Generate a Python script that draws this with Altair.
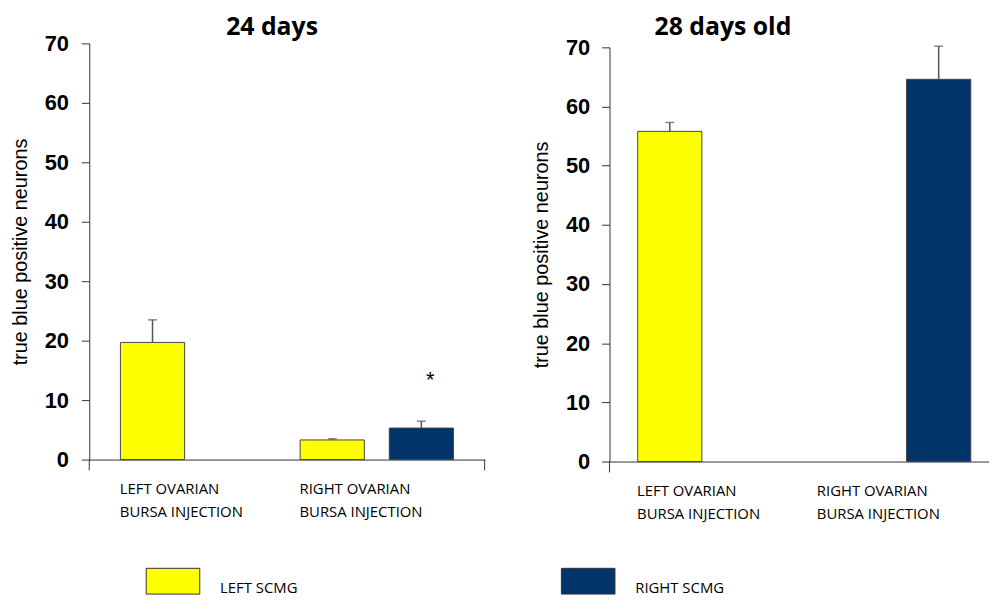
import altair as alt
import pandas as pd

# ---------------- data ----------------
series = ["LEFT SCMG", "RIGHT SCMG"]
series_colors = ["#FFFF00", "#02346A"]
categories = ["LEFT", "RIGHT"]
cat_line1 = ["LEFT OVARIAN", "RIGHT OVARIAN"]
cat_line2 = ["BURSA INJECTION", "BURSA INJECTION"]
y_ticks = [0, 10, 20, 30, 40, 50, 60, 70]
y_title = "true blue positive neurons"

# panel 1: 24 days
p1_title = "24 days"
p1_category = ["LEFT", "RIGHT", "RIGHT"]
p1_series = ["LEFT SCMG", "LEFT SCMG", "RIGHT SCMG"]
p1_mean = [19.7, 3.3, 5.3]
p1_upper = [23.5, 3.5, 6.45]

# significance marker (panel 1)
star_category = ["RIGHT"]
star_series = ["RIGHT SCMG"]
star_y = [13.4]
star_text = ["*"]

# panel 2: 28 days old
p2_title = "28 days old"
p2_category = ["LEFT", "RIGHT"]
p2_series = ["LEFT SCMG", "RIGHT SCMG"]
p2_mean = [55.8, 64.6]
p2_upper = [57.3, 70.2]

# ---------------- helpers ----------------
label_expr = " : ".join(
    [f"datum.value == '{c}' ? ['{a}', '{b}']" for c, a, b in zip(categories[:-1], cat_line1[:-1], cat_line2[:-1])]
    + [f"['{cat_line1[-1]}', '{cat_line2[-1]}']"]
)

AX = "#333333"
XO_SCALE = dict(domain=series, paddingInner=0.28, paddingOuter=0.148)


def make_panel(df, title, W, H, x_scale, y_range, title_dx, title_offset, legend,
               star_df=None, right_tick=True, y_label_pad=13):
    x_enc = alt.X(
        "category:N",
        scale=x_scale,
        axis=alt.Axis(
            title=None, labelExpr=label_expr, labelAlign="left", labelBaseline="top",
            labelOffset=-78, labelPadding=22, labelLineHeight=23, labelFont="Open Sans",
            labelFontSize=15, labelColor="black", ticks=False, tickSize=0, labelAngle=0,
            labelOverlap=False, domainColor=AX, domainWidth=1,
        ),
    )
    xo_enc = alt.XOffset("series:N", scale=alt.Scale(**XO_SCALE))
    y_scale = alt.Scale(domain=[0, 70], nice=False, zero=True, range=y_range)
    y_enc = alt.Y(
        "mean:Q",
        scale=y_scale,
        axis=alt.Axis(
            values=y_ticks, title=y_title, titleFont="Liberation Sans", titleFontSize=20,
            titleFontWeight="normal", titleColor="black", titlePadding=14,
            labelFont="Liberation Sans", labelFontSize=22, labelFontWeight="bold",
            labelColor="black", labelPadding=y_label_pad, tickSize=8, tickColor=AX,
            domainColor=AX, grid=False,
        ),
    )
    base = alt.Chart(df)
    bars = base.mark_bar(stroke="#444444", strokeWidth=1).encode(
        x=x_enc, xOffset=xo_enc, y=y_enc,
        color=alt.Color("series:N", scale=alt.Scale(domain=series, range=series_colors),
                        legend=legend),
    )
    err = base.mark_rule(color="#555555", strokeWidth=1.5).encode(
        x=x_enc, xOffset=xo_enc, y=alt.Y("mean:Q", scale=y_scale), y2="upper:Q",
    )
    cap = base.mark_tick(color="#555555", thickness=1.5, size=9).encode(
        x=x_enc, xOffset=xo_enc, y=alt.Y("upper:Q", scale=y_scale),
    )
    layers = [bars, err, cap]
    if star_df is not None:
        star = alt.Chart(star_df).mark_text(
            font="Liberation Sans", fontSize=22, color="black", baseline="middle", dx=9
        ).encode(
            x=alt.X("category:N", scale=x_scale),
            xOffset=alt.XOffset("series:N", scale=alt.Scale(**XO_SCALE)),
            y=alt.Y("y:Q", scale=y_scale), text="text:N",
        )
        layers.append(star)
    # axis-line extensions below the zero line
    ext = alt.Chart(alt.Data(values=[{}])).mark_rule(color=AX, strokeWidth=1).encode(
        x=alt.value(0), y=alt.value(H), y2=alt.value(H + 11)
    )
    layers.append(ext)
    if right_tick:
        ext2 = alt.Chart(alt.Data(values=[{}])).mark_rule(color=AX, strokeWidth=1).encode(
            x=alt.value(W), y=alt.value(H), y2=alt.value(H + 11)
        )
        layers.append(ext2)
    return alt.layer(*layers).properties(
        width=W, height=H,
        title=alt.TitleParams(
            title, font="Open Sans", fontSize=25, fontWeight="bold", color="black",
            anchor="middle", frame="group", dx=title_dx, offset=title_offset,
        ),
    )


df1 = pd.DataFrame({"category": p1_category, "series": p1_series, "mean": p1_mean, "upper": p1_upper})
df2 = pd.DataFrame({"category": p2_category, "series": p2_series, "mean": p2_mean, "upper": p2_upper})
star_df = pd.DataFrame({"category": star_category, "series": star_series, "y": star_y, "text": star_text})

legend = alt.Legend(
    title=None, orient="none", legendX=71, legendY=529, direction="horizontal",
    symbolType="M-2.08,-1H2.08V1H-2.08Z", symbolSize=676, symbolStrokeColor="#333333",
    symbolStrokeWidth=1, symbolOpacity=1, labelFont="Open Sans", labelFontSize=15,
    labelColor="black", labelOffset=34, labelBaseline="top", columnPadding=263,
    padding=0, labelLimit=300,
)

left = make_panel(
    df1, p1_title, 399, 420,
    alt.Scale(domain=categories, paddingInner=0, paddingOuter=0.1, align=0.5),
    [420, 0],
    title_dx=-15, title_offset=-8, legend=legend, star_df=star_df, right_tick=True, y_label_pad=13,
)
right = make_panel(
    df2, p2_title, 383, 422,
    alt.Scale(domain=categories, paddingInner=0, paddingOuter=0.0557, align=0.75),
    [422, 4],
    title_dx=-77, title_offset=-4, legend=legend, right_tick=False, y_label_pad=12,
)

chart = alt.hconcat(left, right, spacing=46).properties(
    padding={"left": 2, "top": 5, "right": 0, "bottom": 0}
).configure_view(stroke=None)

chart.save("out.html", embed_options={"renderer": "svg", "actions": False})
